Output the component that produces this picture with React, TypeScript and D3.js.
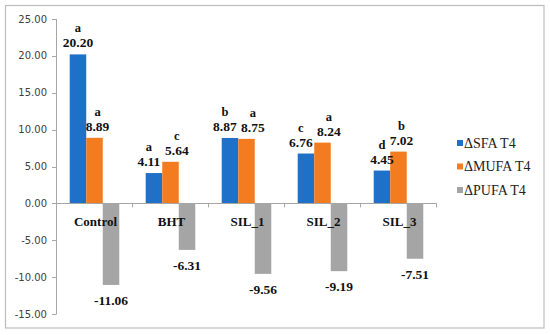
import React from "react";
import * as d3 from "d3";

const categories = ["Control", "BHT", "SIL_1", "SIL_2", "SIL_3"];
const seriesNames = ["\u0394SFA T4", "\u0394MUFA T4", "\u0394PUFA T4"];
const sfa = [20.2, 4.11, 8.87, 6.76, 4.45];
const mufa = [8.89, 5.64, 8.75, 8.24, 7.02];
const pufa = [-11.06, -6.31, -9.56, -9.19, -7.51];
const sfaLetters = ["a", "a", "b", "c", "d"];
const mufaLetters = ["a", "c", "a", "a", "b"];
const yTicks = [-15, -10, -5, 0, 5, 10, 15, 20, 25];
const colors = ["#1f70c8", "#f47c20", "#a5a5a5"];

const W = 550;
const H = 335;

export default function App() {
  const y = d3.scaleLinear().domain([-15, 25]).range([314, 19]);
  const x0 = d3.scaleBand<string>().domain(categories).range([56.5, 436.5]).paddingInner(0).paddingOuter(0);
  const x1 = d3
    .scaleBand<string>()
    .domain(seriesNames)
    .range([0, x0.bandwidth()])
    .paddingInner(0)
    .paddingOuter(0.8);
  const series = [sfa, mufa, pufa];
  const letters = [sfaLetters, mufaLetters, null];
  const serif = "'Palatino Linotype', 'Book Antiqua', 'Liberation Serif', serif";
  const y0 = y(0);
  const tickPositions = categories.map((c) => x0(c)!).concat([x0.range()[1]]);
  const fmt = (v: number) => v.toFixed(2);
  const valueFont = 13.5;
  const approxWidth = (s: string) => s.length * valueFont * 0.5;

  // label layout: start centered on bars, orange slightly right, push apart on collision
  const labelPos = series.map((vals, si) =>
    vals.map((v, ci) => {
      const cx = x0(categories[ci])! + x1(seriesNames[si])! + x1.bandwidth() / 2;
      const base = v >= 0 ? y(v) - 7 : y(v) + 20;
      return { x: cx + (si === 1 ? 3 : 0), y: base };
    })
  );
  categories.forEach((_, ci) => {
    const a = labelPos[0][ci];
    const b = labelPos[1][ci];
    if (Math.abs(a.y - b.y) < 12) {
      const need = (approxWidth(fmt(sfa[ci])) + approxWidth(fmt(mufa[ci]))) / 2 + 1;
      const gap = b.x - a.x;
      if (gap < need) {
        const d = need - gap;
        a.x -= d * 0.6;
        b.x += d * 0.4;
      }
    }
  });

  return (
    <svg width={W} height={H} style={{ position: "absolute", left: 0, top: 0, background: "#fff" }}>
      <rect x={5.5} y={5.5} width={538.5} height={322.5} fill="#fff" stroke="#bcbcbc" strokeWidth={1.2} />
      {/* y axis */}
      <line x1={56.5} x2={56.5} y1={y(25)} y2={y(-15)} stroke="#a6a6a6" />
      {yTicks.map((t) => (
        <g key={t}>
          <line x1={52} x2={56.5} y1={Math.round(y(t)) + 0.5} y2={Math.round(y(t)) + 0.5} stroke="#a6a6a6" />
          <text
            x={47}
            y={y(t)}
            dy="0.35em"
            textAnchor="end"
            fontFamily="'DejaVu Sans', Verdana, sans-serif"
            fontSize={10}
            fill="#404040"
          >
            {fmt(t)}
          </text>
        </g>
      ))}
      {/* bars */}
      {series.map((vals, si) =>
        vals.map((v, ci) => {
          const bx = x0(categories[ci])! + x1(seriesNames[si])!;
          const top = Math.min(y(v), y0);
          const h = Math.abs(y(v) - y0);
          return <rect key={`${si}-${ci}`} x={bx} y={top} width={x1.bandwidth()} height={h} fill={colors[si]} />;
        })
      )}
      {/* x axis */}
      <line x1={56.5} x2={x0.range()[1]} y1={Math.round(y0) + 0.5} y2={Math.round(y0) + 0.5} stroke="#a6a6a6" />
      {tickPositions.map((tx, i) => (
        <line key={i} x1={tx} x2={tx} y1={y0} y2={y0 + 4} stroke="#a6a6a6" />
      ))}
      {/* category labels */}
      {categories.map((c) => (
        <text
          key={c}
          x={x0(c)! + x0.bandwidth() / 2 + 1}
          y={226}
          textAnchor="middle"
          fontFamily={serif}
          fontWeight="bold"
          fontSize={13}
          fill="#111"
        >
          {c}
        </text>
      ))}
      {/* value labels */}
      {series.map((vals, si) =>
        vals.map((v, ci) => {
          const p = labelPos[si][ci];
          const lt = letters[si];
          return (
            <g key={`l${si}-${ci}`} fontFamily={serif} fontWeight="bold" fill="#111">
              <text x={p.x} y={p.y} textAnchor="middle" fontSize={valueFont}>
                {fmt(v)}
              </text>
              {lt && (
                <text x={p.x} y={p.y - 15} textAnchor="middle" fontSize={12.5}>
                  {lt[ci]}
                </text>
              )}
            </g>
          );
        })
      )}
      {/* legend */}
      {seriesNames.map((s, i) => {
        const ly = [143, 166.5, 190][i];
        return (
          <g key={s}>
            <rect x={457} y={ly - 3} width={6} height={6} fill={colors[i]} />
            <text x={464} y={ly} dy="0.35em" fontFamily={serif} fontSize={14} fill="#222">
              {s}
            </text>
          </g>
        );
      })}
    </svg>
  );
}
